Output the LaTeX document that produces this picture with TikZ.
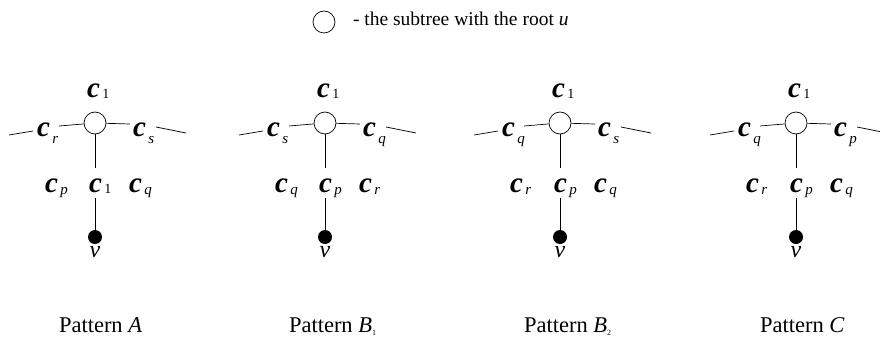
\documentclass[tikz,border=0pt]{standalone}
\usepackage{fontspec}
\setmainfont{Liberation Serif}
\newcommand\cf{\fontsize{29}{29}\selectfont\bfseries\itshape c}
\newcommand\si[1]{{\fontsize{15}{15}\selectfont\mdseries\itshape #1}}
\newcommand\sd[1]{\raisebox{-7pt}{\si{#1}}}
\newcommand\md[1]{\raisebox{-2pt}{\si{#1}}}
\newcommand\one{\raisebox{-1pt}{\fontsize{14}{14}\selectfont\mdseries\upshape 1}}
\newcommand\lb[1]{\cf\hspace{2.5pt}#1}
\tikzset{
  lbl/.style={anchor=base west, inner sep=0pt, outer sep=0pt},
  circ/.style={circle, draw, line width=0.7pt, minimum size=22pt, inner sep=0pt, fill=white},
  dotnode/.style={circle, fill=black, minimum size=14pt, inner sep=0pt},
  ln/.style={line width=0.7pt},
}
% #1 cx, #2 prefix, #3 left sub, #4 right sub, #5 midL, #6 midC, #7 midR, #8 title
\newcommand\pat[8]{%
  \node[circ] (#2u) at (#1,123) {};
  \node[lbl] (#2top) at ({#1-8},97) {\lb{\one}};
  \node[lbl] (#2L) at ({#1-58},136) {\lb{#3}};
  \node[lbl] (#2R) at ({#1+38},136) {\lb{#4}};
  \node[lbl] (#2mL) at ({#1-50},192) {\lb{#5}};
  \node[lbl] (#2mC) at ({#1-6},192) {\lb{#6}};
  \node[lbl] (#2mR) at ({#1+34},192) {\lb{#7}};
  \coordinate (#2a) at ({#1-36},126);
  \coordinate (#2b) at ({#1+35},124);
  \coordinate (#2c) at ({#1-86},135);
  \coordinate (#2d) at ({#1-62},131);
  \coordinate (#2e) at ({#1+61},127);
  \coordinate (#2f) at ({#1+91},133);
  \coordinate (#2g) at (#1,168);
  \coordinate (#2h) at (#1,198);
  \node[dotnode] (#2v) at (#1,237) {};
  \draw[ln] (#2a) -- (#2u);
  \draw[ln] (#2u) -- (#2b);
  \draw[ln] (#2c) -- (#2d);
  \draw[ln] (#2e) -- (#2f);
  \draw[ln] (#2u) -- (#2g);
  \draw[ln] (#2h) -- (#2v);
  \node[anchor=base, inner sep=0pt] (#2vl) at (#1,257) {\fontsize{24}{24}\selectfont\itshape v};
  \node[lbl] (#2title) at ({#1-36},332) {\fontsize{22.5}{22.5}\selectfont #8};
}
\begin{document}
\begin{tikzpicture}[x=1pt,y=-1pt]
\useasboundingbox (0,0) rectangle (880,337);
\node[circ] (key) at (324,22) {};
\node[lbl] (keytext) at (353,26) {\fontsize{19.5}{19.5}\selectfont - the subtree with the root \textit{u}};
\pat{95}{A}{\sd{r}}{\sd{s}}{\md{p}}{\one}{\md{q}}{Pattern \textit{A}}
\pat{325}{B}{\sd{s}}{\sd{q}}{\md{q}}{\md{p}}{\md{r}}{Pattern \textit{B}\raisebox{-3pt}{\fontsize{8}{8}\selectfont 1}}
\pat{560}{D}{\sd{q}}{\sd{s}}{\md{r}}{\md{p}}{\md{q}}{Pattern \textit{B}\raisebox{-3pt}{\fontsize{8}{8}\selectfont 2}}
\pat{796}{C}{\sd{q}}{\sd{p}}{\md{r}}{\md{p}}{\md{q}}{Pattern \textit{C}}
\end{tikzpicture}
\end{document}
